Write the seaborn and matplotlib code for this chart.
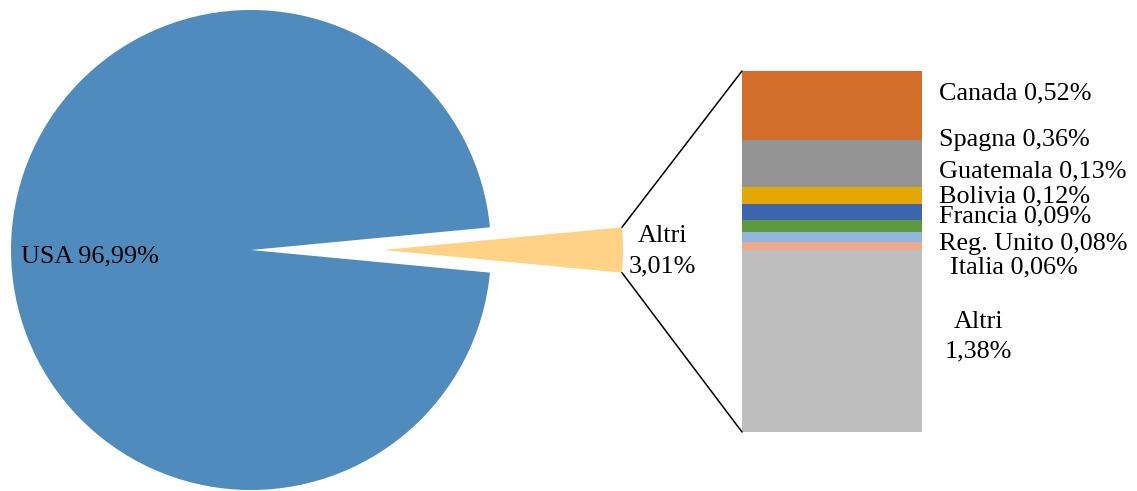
import numpy as np
import matplotlib
matplotlib.use("Agg")
import matplotlib.pyplot as plt
from matplotlib.patches import ConnectionPatch
import seaborn as sns

# Pie: main split
pie_labels = ["USA", "Altri"]
pie_values = [96.99, 3.01]
pie_colors = ["#4F8BBD", "#FFD285"]

# Breakdown bar of the "Altri" share (top to bottom)
bar_labels = ["Canada", "Spagna", "Guatemala", "Bolivia", "Francia",
              "Reg. Unito", "Italia", "Altri"]
bar_values = [0.52, 0.36, 0.13, 0.12, 0.09, 0.08, 0.06, 1.38]
bar_colors = ["#D26E2A", "#949494", "#E3A900", "#3C64AF", "#5E9A3D",
              "#93B6DE", "#EFA98C", "#BEBEBE"]

sns.set_theme(style="white")
plt.rcParams["font.family"] = ["Liberation Serif", "DejaVu Serif"]

W, H = 1137, 491
fig = plt.figure(figsize=(W / 100, H / 100), dpi=100)
FS = 18.8


def fmt(v):
    return f"{v:.2f}".replace(".", ",") + "%"


def px(x, y_top):
    """Pixel position (origin top-left) to figure fraction."""
    return x / W, 1 - y_top / H


# ---- pie ----
R = 240.0
cx, cy_top = 251, 250
xmin, xmax, ymin, ymax = -1.05, 1.70, -1.05, 1.05
left = cx + xmin * R
bottom = (H - cy_top) + ymin * R
ax_pie = fig.add_axes([left / W, bottom / H, (xmax - xmin) * R / W,
                       (ymax - ymin) * R / H])
explode_amt = 0.55
start = pie_values[1] / 100 * 360 / 2
wedges, _ = ax_pie.pie(pie_values, colors=pie_colors, startangle=start,
                       explode=[0, explode_amt], counterclock=True,
                       wedgeprops=dict(linewidth=0))
ax_pie.set_xlim(xmin, xmax)
ax_pie.set_ylim(ymin, ymax)
ax_pie.set_aspect("auto")
ax_pie.axis("off")

# ---- stacked bar ----
bx0, bx1, by0, by1 = 742, 922, 71, 432
ax_bar = fig.add_axes([bx0 / W, (H - by1) / H, (bx1 - bx0) / W, (by1 - by0) / H])
cum = np.cumsum(bar_values)
total = cum[-1]
for c, col in zip(cum[::-1], bar_colors[::-1]):
    sns.barplot(x=["altri"], y=[c], color=col, width=1, saturation=1,
                linewidth=0, ax=ax_bar)
ax_bar.set_xlim(-0.5, 0.5)
ax_bar.set_ylim(total, 0)
ax_bar.axis("off")

# connector lines from the exploded wedge to the bar corners
theta1 = np.deg2rad(360 - start)
theta2 = np.deg2rad(start)
shift = explode_amt
for th, yb in [(theta2, 1), (theta1, 0)]:
    xa = shift + np.cos(th)
    ya = np.sin(th)
    con = ConnectionPatch(xyA=(xa, ya), coordsA=ax_pie.transData,
                          xyB=(0, yb), coordsB=ax_bar.transAxes,
                          color="black", linewidth=1.1)
    fig.add_artist(con)

# ---- labels ----
fig.text(*px(21, 262), f"{pie_labels[0]} {fmt(pie_values[0])}",
         fontsize=FS, ha="left", va="baseline", color="black")
fig.text(*px(662, 242), pie_labels[1], fontsize=FS, ha="center",
         va="baseline", color="black")
fig.text(*px(662, 272), fmt(pie_values[1]), fontsize=FS, ha="center",
         va="baseline", color="black")

label_pos = [(939, 99), (939, 146), (939, 177), (939, 202), (939, 222),
             (939, 250), (950, 273)]
for (lx, ly), name, v in zip(label_pos, bar_labels[:-1], bar_values[:-1]):
    fig.text(*px(lx, ly), f"{name} {fmt(v)}", fontsize=FS, ha="left",
             va="baseline", color="black")
fig.text(*px(978, 328), bar_labels[-1], fontsize=FS, ha="center",
         va="baseline", color="black")
fig.text(*px(978, 357), fmt(bar_values[-1]), fontsize=FS, ha="center",
         va="baseline", color="black")

fig.savefig("out.png", dpi=100, facecolor="white")
